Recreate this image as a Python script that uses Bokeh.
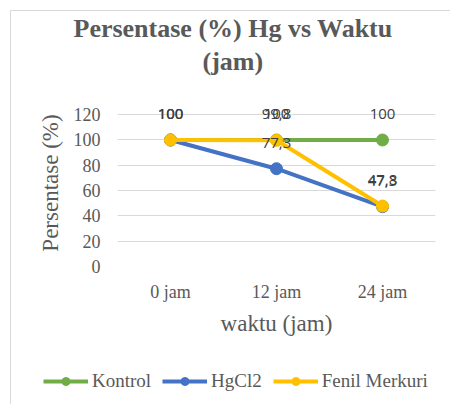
from bokeh.plotting import figure
from bokeh.layouts import column
from bokeh.models import (ColumnDataSource, Legend, LegendItem, FactorRange,
                          Range1d, FixedTicker, Title, InlineStyleSheet)
from bokeh.core.properties import value
from bokeh.embed import file_html
from bokeh.resources import INLINE

# ---- data ----
waktu = ["0 jam", "12 jam", "24 jam"]
kontrol = [100, 100, 100]
hgcl2 = [100, 77.3, 47.3]
fenil = [100, 99.8, 47.8]
series_names = ["Kontrol", "HgCl2", "Fenil Merkuri"]
series_colors = ["#70AD47", "#4472C4", "#FFC000"]
y_ticks = [0, 20, 40, 60, 80, 100, 120]

GRAY = "#595959"
SERIF = "Liberation Serif"

p = figure(x_range=FactorRange(*waktu, range_padding=0),
           y_range=Range1d(0, 132),
           width=450, height=350,
           output_backend="svg", toolbar_location=None,
           title_location=None,
           min_border_left=117, min_border_right=15,
           min_border_top=99, min_border_bottom=84,
           background_fill_color="white", border_fill_color="white")
p.outline_line_color = None
p.frame_align = False

# titles (inner first)
spacer = Title(text=" ", standoff=21, text_font_size="1px")
t2 = Title(text="(jam)", align="left", offset=85, standoff=0,
           text_font=SERIF, text_font_size="26px", text_font_style="bold",
           text_color=GRAY)
t1 = Title(text="Persentase (%) Hg vs Waktu", align="left", offset=-44, standoff=4,
           text_font=SERIF, text_font_size="26px", text_font_style="bold",
           text_color=GRAY)
p.add_layout(spacer, "above")
p.add_layout(t2, "above")
p.add_layout(t1, "above")

# axes
p.xgrid.visible = False
p.ygrid.grid_line_color = "#d9d9d9"
p.ygrid.grid_line_width = 1
p.yaxis.ticker = FixedTicker(ticks=y_ticks)
for ax in (p.xaxis[0], p.yaxis[0]):
    ax.axis_line_color = None
    ax.major_tick_line_color = None
    ax.minor_tick_line_color = None
    ax.major_tick_out = 0
    ax.major_tick_in = 0
    ax.major_label_text_font = SERIF
    ax.major_label_text_font_size = "18px"
    ax.major_label_text_color = GRAY
    ax.axis_label_text_font = SERIF
    ax.axis_label_text_font_size = "23px"
    ax.axis_label_text_font_style = "normal"
    ax.axis_label_text_color = GRAY
p.yaxis.axis_label = "Persentase (%)"
p.xaxis.axis_label = "waktu (jam)"
p.yaxis.major_label_standoff = 17
p.yaxis.axis_label_standoff = 8
p.xaxis.major_label_standoff = 15
p.xaxis.axis_label_standoff = 6

# legend strip (separate figure; series drawn out of view feed the legend)
pl = figure(x_range=FactorRange(*waktu, range_padding=0), y_range=Range1d(0, 1),
            width=450, height=54, output_backend="svg", toolbar_location=None,
            x_axis_location=None, y_axis_location=None, title_location=None,
            min_border=0, background_fill_color="white", border_fill_color="white")
pl.outline_line_color = None
pl.grid.visible = False
pl.frame_align = False

sources = []
for vals in [kontrol, hgcl2, fenil]:
    sources.append(ColumnDataSource(dict(
        x=waktu, y=vals, lab=[f"{v:g}".replace(".", ",") for v in vals])))

items = []
for name, src, col in zip(series_names, sources, series_colors):
    p.line("x", "y", source=src, line_color=col, line_width=4)
    p.scatter("x", "y", source=src, size=12, fill_color=col, line_color=col)
    l2 = pl.line("x", "y", source=src, line_color=col, line_width=4)
    s2 = pl.scatter("x", "y", source=src, size=12, fill_color=col, line_color=col)
    items.append(LegendItem(label=name, renderers=[l2, s2]))

for src in sources:
    p.text("x", "y", text="lab", source=src, y_offset=-26,
           text_align="center", text_baseline="middle",
           text_font=value("Open Sans"), text_font_size="15px",
           text_color="#404040")

legend = Legend(items=items, orientation="horizontal", location=(43, 12),
                glyph_width=45, glyph_height=20, label_standoff=4, spacing=11,
                padding=0, margin=0, border_line_color=None,
                background_fill_alpha=0,
                label_text_font=SERIF, label_text_font_size="19px",
                label_text_color=GRAY)
pl.add_layout(legend)

layout = column(p, pl, spacing=0)
layout.stylesheets = [InlineStyleSheet(css=(
    ":host { position: relative; }"
    ":host::after { content: ''; position: absolute; left: 10px; top: 10px;"
    " width: 440px; height: 394px; box-sizing: border-box;"
    " border-left: 1px solid #d9d9d9; border-top: 1px solid #d9d9d9;"
    " pointer-events: none; z-index: 10; }"))]
open("out.html", "w").write(file_html(layout, INLINE))
